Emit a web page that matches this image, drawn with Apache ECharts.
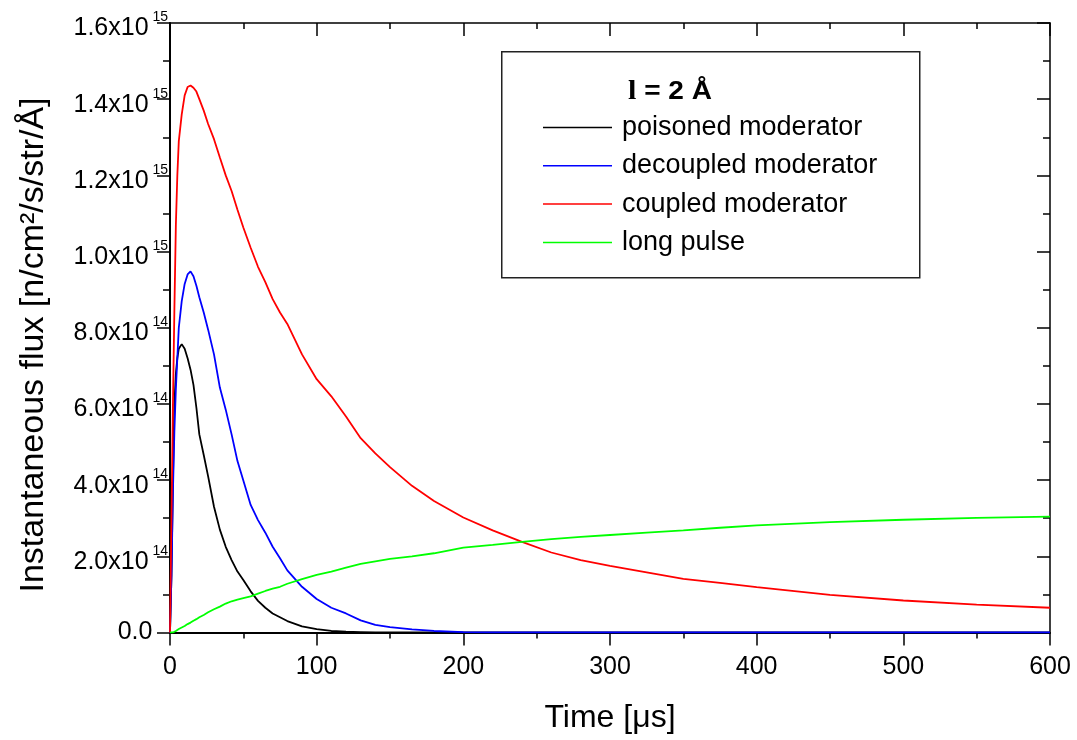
<!DOCTYPE html>
<html><head><meta charset="utf-8">
<script src="https://cdn.jsdelivr.net/npm/echarts@6/dist/echarts.min.js"></script>
<style>html,body{margin:0;padding:0;background:#fff}#c{width:1077px;height:740px}</style>
</head><body><div id="c"></div>
<script>
// Time grid (microseconds)
const timeUs = [0,1,2,3,4,5,6,8,10,12,14,16,18,20,23,26,30,34,38,42,46,50,55,60,65,70,75,80,90,100,110,120,130,140,150,165,180,200,220,240,260,280,300,325,350,375,400,450,500,550,600];
// Flux values in units of 1e15 n/cm2/s/str/A
const poisoned = [0,0.15,0.4,0.6,0.68,0.72,0.745,0.757,0.745,0.72,0.69,0.65,0.59,0.52,0.466,0.41,0.33,0.27,0.225,0.19,0.16,0.138,0.108,0.083,0.065,0.05,0.04,0.03,0.016,0.009,0.004,0.002,0.001,0,0,0,0,0,0,0,0,0,0,0,0,0,0,0,0,0,0];
const decoupled = [0,0.15,0.37,0.53,0.64,0.72,0.8,0.87,0.915,0.94,0.948,0.935,0.91,0.88,0.84,0.795,0.73,0.643,0.585,0.52,0.45,0.399,0.335,0.295,0.262,0.225,0.195,0.163,0.12,0.088,0.065,0.05,0.032,0.02,0.014,0.008,0.004,0.001,0,0,0,0,0,0,0,0,0,0,0,0,0];
const coupled = [0,0.3,0.6,0.85,1.07,1.2,1.29,1.36,1.41,1.432,1.436,1.43,1.42,1.4,1.37,1.335,1.295,1.247,1.2,1.159,1.11,1.063,1.01,0.96,0.92,0.875,0.84,0.81,0.73,0.665,0.62,0.567,0.51,0.47,0.434,0.385,0.345,0.302,0.268,0.238,0.21,0.19,0.175,0.158,0.141,0.13,0.119,0.099,0.084,0.073,0.065];
const longPulse = [0,0,0,0.002,0.004,0.006,0.009,0.013,0.017,0.022,0.026,0.031,0.035,0.04,0.046,0.053,0.061,0.068,0.076,0.082,0.086,0.09,0.095,0.102,0.109,0.115,0.12,0.128,0.14,0.151,0.16,0.17,0.18,0.187,0.193,0.2,0.208,0.223,0.23,0.238,0.245,0.251,0.256,0.262,0.268,0.275,0.281,0.29,0.296,0.301,0.304];
const seriesNames = ['poisoned moderator','decoupled moderator','coupled moderator','long pulse'];
const seriesColors = ['#000000','#0000ff','#ff0000','#00ff00'];
const yTickMantissa = ['0.0','2.0','4.0','6.0','8.0','1.0','1.2','1.4','1.6'];
const yTickExponent = ['','14','14','14','14','15','15','15','15'];

const FONT = "'Liberation Sans', Arial, sans-serif";
const toPairs = arr => timeUs.map((t,i)=>[t, arr[i]*1e15]);
const allData = [poisoned, decoupled, coupled, longPulse];

const chart = echarts.init(document.getElementById('c'), null, {renderer:'canvas'});
const axisCommon = {
  axisLine:{show:true,onZero:false,lineStyle:{color:'#000',width:2}},
  splitLine:{show:false}
};
const option = {
  backgroundColor:'#fff',
  animation:false,
  grid:{left:170,right:27,top:23,bottom:107.5,containLabel:false},
  legend:{
    orient:'vertical', left:543, top:114, padding:0,
    icon:'rect', itemWidth:69, itemHeight:1.5, itemGap:11.3,
    data:seriesNames,
    textStyle:{fontFamily:FONT,fontSize:27,lineHeight:26,color:'#000',padding:[0,0,0,5]}
  },
  xAxis:[
    Object.assign({}, axisCommon, {
      type:'value', position:'bottom', min:0, max:600, interval:100,
      axisTick:{show:true,inside:false,length:13,lineStyle:{color:'#000',width:1.5}},
      minorTick:{show:true,splitNumber:2,length:6,lineStyle:{color:'#000',width:1.5}},
      axisLabel:{margin:22,fontFamily:FONT,fontSize:25,color:'#000'},
      name:'Time [\u03bcs]', nameLocation:'middle', nameGap:70,
      nameTextStyle:{fontFamily:FONT,fontSize:32,color:'#000'}
    }),
    Object.assign({}, axisCommon, {
      type:'value', position:'top', min:0, max:600, interval:100,
      axisLine:{show:true,onZero:false,lineStyle:{color:'#000',width:1.5}},
      axisTick:{show:true,inside:true,length:13,lineStyle:{color:'#000',width:1.5}},
      minorTick:{show:true,splitNumber:2,length:6,lineStyle:{color:'#000',width:1.5}},
      axisLabel:{show:false}
    })
  ],
  yAxis:[
    Object.assign({}, axisCommon, {
      type:'value', position:'left', min:0, max:1.6e15, interval:2e14,
      axisTick:{show:true,inside:false,length:13,lineStyle:{color:'#000',width:1.5}},
      minorTick:{show:true,splitNumber:2,length:7,lineStyle:{color:'#000',width:1.5}},
      axisLabel:{
        margin:2, color:'#000', align:'right',
        formatter:function(v){
          const i = Math.round(v/2e14);
          if (!yTickExponent[i]) return '{z|'+yTickMantissa[i]+'}{h|15}';
          return '{s|'+yTickExponent[i]+'}\n{b|'+yTickMantissa[i]+'x10}{h|\u00a0'+yTickExponent[i]+'}';
        },
        rich:{
          z:{fontFamily:FONT,fontSize:25,lineHeight:25,color:'#000'},
          b:{fontFamily:FONT,fontSize:25,lineHeight:11,color:'#000'},
          s:{fontFamily:FONT,fontSize:14,lineHeight:11,color:'#000'},
          h:{fontFamily:FONT,fontSize:14,lineHeight:11,color:'rgba(0,0,0,0)'}
        }
      }
    }),
    Object.assign({}, axisCommon, {
      type:'value', position:'right', min:0, max:1.6e15, interval:2e14,
      axisLine:{show:true,onZero:false,lineStyle:{color:'#000',width:1.5}},
      axisTick:{show:true,inside:true,length:13,lineStyle:{color:'#000',width:1.5}},
      minorTick:{show:true,splitNumber:2,length:7,lineStyle:{color:'#000',width:1.5}},
      axisLabel:{show:false}
    })
  ],
  graphic:[
    {type:'rect', left:501, top:51, shape:{width:418,height:226}, style:{fill:'transparent',stroke:'#222',lineWidth:1.5}, z:1},
    {type:'text', x:628, y:92, scaleX:1.12, style:{
      text:'{l|l}{r| = 2 \u00c5}', verticalAlign:'middle', align:'left',
      rich:{
        l:{fontFamily:"'Liberation Serif', 'DejaVu Serif', serif",fontWeight:'bold',fontSize:27,fill:'#000'},
        r:{fontFamily:FONT,fontWeight:'bold',fontSize:25,fill:'#000'}
      }
    }},
    {type:'text', x:34, y:345, rotation:Math.PI/2, style:{
      text:'Instantaneous flux [n/cm\u00b2/s/str/\u00c5]', fontFamily:FONT, fontSize:34, fill:'#000',
      align:'center', verticalAlign:'middle'
    }}
  ],
  series: allData.map((arr,k)=>({
    name:seriesNames[k], type:'line', data:toPairs(arr), showSymbol:false, symbol:'none',
    xAxisIndex:0, yAxisIndex:0,
    lineStyle:{color:seriesColors[k],width:1.8}, itemStyle:{color:seriesColors[k]},
    smooth:false, clip:true
  }))
};
chart.setOption(option);
</script>
</body></html>
